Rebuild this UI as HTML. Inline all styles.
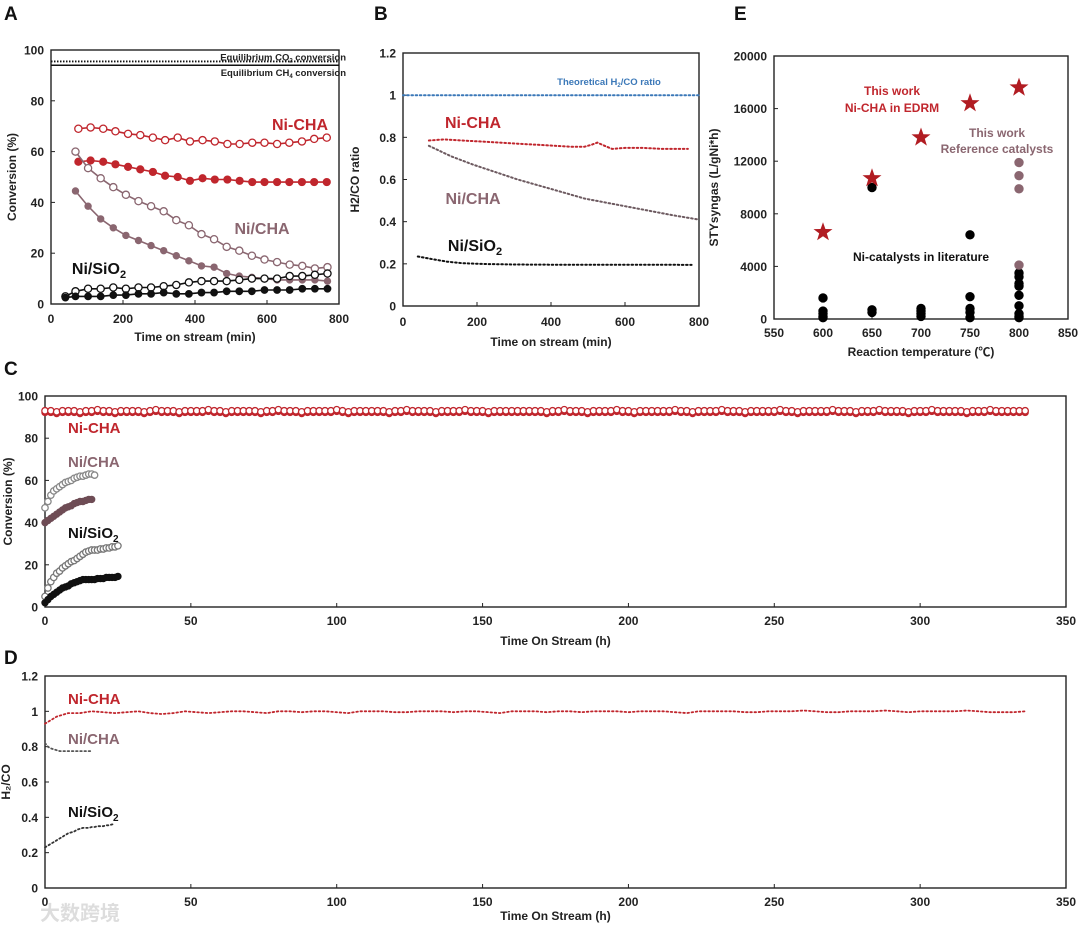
<!DOCTYPE html>
<html><head><meta charset="utf-8"><style>
html,body{margin:0;padding:0;background:#fff}
svg{display:block;font-family:"Liberation Sans",Arial,"Noto Sans CJK SC",sans-serif}
text{font-weight:bold}
</style></head><body>
<svg id="fig" width="1080" height="933" viewBox="0 0 1080 933" xmlns="http://www.w3.org/2000/svg"></svg>
<script>
// ---------- Panel A data ----------
const aX = [76,110,145,179,214,248,283,317,352,386,421,455,490,524,559,593,628,662,697,731,766];
const aNiCHAopen = [69,69.5,69,68,67,66.5,65.5,64.5,65.5,64,64.5,64,63,63,63.5,63.5,63,63.5,64,65,65.5];
const aNiCHAfill = [56,56.5,56,55,54,53,52,50.5,50,48.5,49.5,49,49,48.5,48,48,48,48,48,48,48];
const aX2 = [68,103,138,173,208,243,278,313,348,383,418,453,488,523,558,593,628,663,698,733,768];
const aNiCHA2open = [60,53.5,49.5,46,43,40.5,38.5,36.5,33,31,27.5,25.5,22.5,21,19,17.5,16.5,15.5,15,14,14.5];
const aNiCHA2fill = [44.5,38.5,33.5,30,27,25,23,21,19,17,15,14.5,12,11,10.5,10,9.5,9.5,9.5,9.5,9];
const aXs = [40,68,103,138,173,208,243,278,313,348,383,418,453,488,523,558,593,628,663,698,733,768];
const aSiO2open = [3,5,6,6,6.5,6,6.5,6.5,7,7.5,8.5,9,9,9,9.5,10,10,10,11,11,11.5,12];
const aSiO2fill = [2.5,3,3,3,3.5,3.5,4,4,4.5,4,4,4.5,4.5,5,5,5,5.5,5.5,5.5,6,6,6];
const aEqCO2 = 95.5, aEqCH4 = 94;
const aYTicks = [0,20,40,60,80,100];
const aXTicks = [0,200,400,600,800];
// ---------- Panel B data ----------
const bTheo = 1.0;
const bNiCHAx = [70,110,160,210,260,310,360,410,460,490,510,525,545,565,600,650,700,770];
const bNiCHAy = [0.785,0.79,0.785,0.78,0.775,0.77,0.765,0.76,0.755,0.755,0.765,0.775,0.76,0.745,0.75,0.75,0.745,0.745];
const bNiCHA2x = [70,130,190,250,310,370,430,490,550,610,670,730,800];
const bNiCHA2y = [0.76,0.71,0.67,0.635,0.60,0.57,0.54,0.51,0.49,0.47,0.45,0.43,0.41];
const bSiO2x = [40,80,120,160,220,300,400,500,600,700,780];
const bSiO2y = [0.235,0.222,0.21,0.203,0.199,0.197,0.196,0.196,0.196,0.196,0.195];
const bYTicks = [0,0.2,0.4,0.6,0.8,1,1.2];
const bXTicks = [0,200,400,600,800];
// ---------- Panel E data ----------
const eStarT = [600,650,700,750,800];
const eStarV = [6600,10700,13800,16400,17600];
const eRefT = [800,800,800,800];
const eRefV = [11900,10900,9900,4100];
const eLitT = [600,600,600,600,600,650,650,650,700,700,700,700,750,750,750,750,750,800,800,800,800,800,800,800,800,800];
const eLitV = [1600,600,400,200,100,10000,700,500,800,600,400,200,6400,1700,800,500,100,3500,3200,2700,2500,1800,1000,400,200,100];
const eYTicks = [0,4000,8000,12000,16000,20000];
const eXTicks = [550,600,650,700,750,800,850];
// ---------- Panel C data (Ni-CHA every 2 h) ----------
const cNiCHA = [
93,93,92.5,93,93,93,92.5,93,93,93.5,93,93,92.5,93,93,93,93,92.5,93,93.5,
93,93,93,92.5,93,93,93,93,93.5,93,93,92.5,93,93,93,93,93,92.5,93,93,
93.5,93,93,93,92.5,93,93,93,93,93,93.5,93,92.5,93,93,93,93,93,93,92.5,
93,93,93.5,93,93,93,93,92.5,93,93,93,93,93.5,93,93,93,92.5,93,93,93,
93,93,93,93,93,93,92.5,93,93,93.5,93,93,93,92.5,93,93,93,93,93.5,93,
93,92.5,93,93,93,93,93,93,93.5,93,93,92.5,93,93,93,93,93.5,93,93,93,
92.5,93,93,93,93,93,93.5,93,93,92.5,93,93,93,93,93,93.5,93,93,93,92.5,
93,93,93,93.5,93,93,93,93,92.5,93,93,93,93.5,93,93,93,93,93,92.5,93,
93,93,93.5,93,93,93,93,93,93];
const cNiCHA2open = [47,50,53,55,56,57,58,59,59.5,60,61,61.5,62,62,62.5,63,63,62.5];
const cNiCHA2fill = [40,41,42,43,44,45,46,47,47.5,48,49,49.5,50,50,50.5,51,51];
const cSiO2open = [5,9,12,14,16,17,18.5,19.5,20.5,21.5,22,23,24,25,26,26.5,27,27,27,27.5,27.5,28,28,28.5,28.5,29];
const cSiO2fill = [2,3.5,5,6,7,8,9,9.5,10,11,11.5,12,12.5,13,13,13,13,13,13.5,13.5,13.5,14,14,14,14,14.5];
const cYTicks = [0,20,40,60,80,100];
const cdXTicks = [0,50,100,150,200,250,300,350];
// ---------- Panel D data ----------
const dNiCHA = [0.93,0.97,0.99,0.99,1.0,0.995,0.99,0.995,1.0,0.99,0.985,0.99,1.0,0.995,0.99,0.995,1.0,1.0,0.995,0.99,1.0,1.0,0.995,1.0,1.0,0.995,0.99,1.0,1.0,1.0,0.995,0.995,1.0,1.0,1.0,0.995,1.0,1.0,0.995,0.99,1.0,1.0,1.0,0.995,1.0,1.0,0.995,1.0,1.0,1.0,0.995,1.0,1.0,1.0,0.995,0.99,1.0,1.0,1.0,1.0,0.995,0.995,1.0,1.0,1.0,1.005,1.0,0.995,0.995,1.0,1.0,1.0,1.005,1.0,0.995,1.0,1.0,1.0,1.0,1.005,1.0,0.995,0.995,0.995,1.0];
const dNiCHA2 = [0.82,0.80,0.79,0.785,0.78,0.775,0.775,0.775,0.775,0.775,0.775,0.775,0.775,0.775,0.775,0.775,0.775];
const dSiO2 = [0.23,0.24,0.25,0.26,0.27,0.28,0.29,0.30,0.31,0.315,0.32,0.33,0.335,0.34,0.34,0.34,0.345,0.345,0.35,0.35,0.35,0.355,0.355,0.36,0.36];
const dYTicks = [0,0.2,0.4,0.6,0.8,1,1.2];

const RED = '#c0262d', MAU = '#8a6670', BLK = '#111', BLUE = '#3b78b8';
const svg = document.getElementById('fig');
const NS = 'http://www.w3.org/2000/svg';
function mk(tag, attrs, parent) {
  const e = document.createElementNS(NS, tag);
  for (const k in attrs) e.setAttribute(k, attrs[k]);
  (parent || svg).appendChild(e);
  return e;
}
function scale(d0, d1, r0, r1) { return v => r0 + (v - d0) / (d1 - d0) * (r1 - r0); }
function txt(s, x, y, size, fill, anchor, name, parent) {
  const t = mk('text', {x: x, y: y, 'font-size': size, fill: fill, 'text-anchor': anchor || 'middle'}, parent);
  t.innerHTML = s;
  
  
  return t;
}
function axes(p) {
  const g = mk('g', {});
  
  
  const fr = mk('rect', {x: p.l, y: p.t, width: p.r - p.l, height: p.b - p.t, fill: 'none', stroke: '#222', 'stroke-width': 1.4}, g);
  
  
  p.yt.forEach(v => {
    const y = p.sy(v);
    const tk = mk('line', {x1: p.l, x2: p.l + 4, y1: y, y2: y, stroke: '#222', 'stroke-width': 1}, g);
    
    
    txt(String(v), p.l - 7, y + 4.5, p.fs, '#222', 'end', 'y-tick-label', g);
  });
  p.xt.forEach(v => {
    const x = p.sx(v);
    const tk = mk('line', {x1: x, x2: x, y1: p.b, y2: p.b - 4, stroke: '#222', 'stroke-width': 1}, g);
    
    
    txt(String(v), x, p.b + p.xlo, p.fs, '#222', 'middle', 'x-tick-label', g);
  });
  txt(p.xtitle, (p.l + p.r) / 2, p.b + p.xto, 12, '#222', 'middle', 'x-axis-title', g);
  const yt = txt(p.ytitle, 0, 0, 12, '#222', 'middle', 'y-axis-title', g);
  yt.setAttribute('transform', 'translate(' + p.ytx + ',' + ((p.t + p.b) / 2) + ') rotate(-90)');
  txt(p.letter, p.lx, p.ly, 19, '#111', 'start', 'panel-letter', g);
  return g;
}
function polyline(xs, ys, p, color, dashed, name, w) {
  const pts = xs.map((x, i) => p.sx(x).toFixed(1) + ',' + p.sy(ys[i]).toFixed(1)).join(' ');
  const a = {points: pts, fill: 'none', stroke: color, 'stroke-width': w || 1.6};
  if (dashed) { a['stroke-dasharray'] = '1.6 2.6'; a['stroke-linecap'] = 'round'; a['stroke-width'] = w || 2; }
  const pl = mk('polyline', a);
  
  
}
function markers(xs, ys, p, color, open, r, name) {
  xs.forEach((x, i) => {
    const c = mk('circle', {cx: p.sx(x), cy: p.sy(ys[i]), r: r, fill: open ? '#fff' : color, stroke: color, 'stroke-width': open ? 1.3 : 1});
    
    
  });
}
function idx(n, step) { return Array.from({length: n}, (_, i) => i * step); }

// ---------- Panel A ----------
const A = {name: 'panel-a', l: 51, r: 339, t: 50, b: 304, yt: aYTicks, xt: aXTicks, fs: 12, xlo: 19, xto: 37,
  xtitle: 'Time on stream (min)', ytitle: 'Conversion (%)', ytx: 16, letter: 'A', lx: 4, ly: 20};
A.sx = scale(0, 800, A.l, A.r); A.sy = scale(0, 100, A.b, A.t);
axes(A);
const eq1 = mk('line', {x1: A.l, x2: A.r, y1: A.sy(aEqCO2), y2: A.sy(aEqCO2), stroke: '#111', 'stroke-width': 1.8, 'stroke-dasharray': '1.5 1.5'});
 
const eq2 = mk('line', {x1: A.l, x2: A.r, y1: A.sy(aEqCH4), y2: A.sy(aEqCH4), stroke: '#111', 'stroke-width': 1.4});
 
txt('Equilibrium CO<tspan font-size="6" dy="2">2</tspan><tspan dy="-2"> conversion</tspan>', 346, A.sy(aEqCO2) - 1, 9.5, '#222', 'end', 'equilibrium-co2-label');
txt('Equilibrium CH<tspan font-size="6" dy="2">4</tspan><tspan dy="-2"> conversion</tspan>', 346, A.sy(aEqCH4) + 11, 9.5, '#222', 'end', 'equilibrium-ch4-label');
polyline(aX, aNiCHAopen, A, RED, false, 'a-nicha-co2-line'); markers(aX, aNiCHAopen, A, RED, true, 3.6, 'a-nicha-co2-point');
polyline(aX, aNiCHAfill, A, RED, false, 'a-nicha-ch4-line'); markers(aX, aNiCHAfill, A, RED, false, 3.6, 'a-nicha-ch4-point');
polyline(aX2, aNiCHA2open, A, MAU, false, 'a-ni-cha-co2-line'); markers(aX2, aNiCHA2open, A, MAU, true, 3.6, 'a-ni-cha-co2-point');
polyline(aX2, aNiCHA2fill, A, MAU, false, 'a-ni-cha-ch4-line'); markers(aX2, aNiCHA2fill, A, MAU, false, 3.2, 'a-ni-cha-ch4-point');
polyline(aXs, aSiO2open, A, BLK, false, 'a-sio2-co2-line'); markers(aXs, aSiO2open, A, BLK, true, 3.6, 'a-sio2-co2-point');
polyline(aXs, aSiO2fill, A, BLK, false, 'a-sio2-ch4-line'); markers(aXs, aSiO2fill, A, BLK, false, 3.4, 'a-sio2-ch4-point');
txt('Ni-CHA', 300, 130, 16, RED, 'middle', 'a-nicha-label');
txt('Ni/CHA', 262, 234, 16, MAU, 'middle', 'a-ni-cha-label');
txt('Ni/SiO<tspan font-size="11" dy="4">2</tspan>', 99, 274, 16, '#111', 'middle', 'a-sio2-label');

// ---------- Panel B ----------
const B = {name: 'panel-b', l: 403, r: 699, t: 53, b: 306, yt: bYTicks, xt: bXTicks, fs: 12, xlo: 20, xto: 40,
  xtitle: 'Time on stream (min)', ytitle: 'H2/CO ratio', ytx: 359, letter: 'B', lx: 374, ly: 20};
B.sx = scale(0, 800, B.l, B.r); B.sy = scale(0, 1.2, B.b, B.t);
axes(B);
polyline([0, 800], [bTheo, bTheo], B, BLUE, true, 'b-theoretical-line');
txt('Theoretical H<tspan font-size="6" dy="2">2</tspan><tspan dy="-2">/CO ratio</tspan>', 609, 85, 9.5, BLUE, 'middle', 'b-theoretical-label');
polyline(bNiCHAx, bNiCHAy, B, RED, true, 'b-nicha-line');
polyline(bNiCHA2x, bNiCHA2y, B, '#6d5a60', true, 'b-ni-cha-line');
polyline(bSiO2x, bSiO2y, B, BLK, true, 'b-sio2-line');
txt('Ni-CHA', 473, 128, 16, RED, 'middle', 'b-nicha-label');
txt('Ni/CHA', 473, 204, 16, MAU, 'middle', 'b-ni-cha-label');
txt('Ni/SiO<tspan font-size="11" dy="4">2</tspan>', 475, 251, 16, '#111', 'middle', 'b-sio2-label');

// ---------- Panel E ----------
const E = {name: 'panel-e', l: 774, r: 1068, t: 56, b: 319, yt: eYTicks, xt: eXTicks, fs: 12, xlo: 18, xto: 37,
  xtitle: 'Reaction temperature (℃)', ytitle: 'STYsyngas (L/gNi*h)', ytx: 718, letter: 'E', lx: 734, ly: 20};
E.sx = scale(550, 850, E.l, E.r); E.sy = scale(0, 20000, E.b, E.t);
axes(E);
markers(eLitT, eLitV, E, '#000', false, 4.2, 'e-literature-point');
markers(eRefT, eRefV, E, MAU, false, 4.2, 'e-reference-point');
eStarT.forEach((t, i) => {
  const cx = E.sx(t), cy = E.sy(eStarV[i]), R = 10, r = 4;
  let pts = [];
  for (let k = 0; k < 10; k++) {
    const ang = -Math.PI / 2 + k * Math.PI / 5, rr = k % 2 ? r : R;
    pts.push((cx + rr * Math.cos(ang)).toFixed(1) + ',' + (cy + rr * Math.sin(ang)).toFixed(1));
  }
  const s = mk('polygon', {points: pts.join(' '), fill: '#b11c22'});
  
  
});
txt('This work', 892, 95, 12, RED, 'middle', 'e-this-work-label');
txt('Ni-CHA in EDRM', 892, 112, 12, RED, 'middle', 'e-nicha-edrm-label');
txt('This work', 997, 137, 12, MAU, 'middle', 'e-ref-this-work-label');
txt('Reference catalysts', 997, 153, 12, MAU, 'middle', 'e-reference-label');
txt('Ni-catalysts in literature', 921, 261, 12, '#111', 'middle', 'e-literature-label');

// ---------- Panel C ----------
const C = {name: 'panel-c', l: 45, r: 1066, t: 396, b: 607, yt: cYTicks, xt: cdXTicks, fs: 12, xlo: 18, xto: 38,
  xtitle: 'Time On Stream (h)', ytitle: 'Conversion (%)', ytx: 12, letter: 'C', lx: 4, ly: 375};
C.sx = scale(0, 350, C.l, C.r); C.sy = scale(0, 100, C.b, C.t);
axes(C);
const cX = idx(cNiCHA.length, 2);
markers(cX, cNiCHA.map(v => v - 0.8), C, RED, false, 3.2, 'c-nicha-ch4-point');
markers(cX, cNiCHA, C, RED, true, 3.2, 'c-nicha-co2-point');
markers(idx(cNiCHA2open.length, 1), cNiCHA2open, C, '#888', true, 3.2, 'c-ni-cha-co2-point');
markers(idx(cNiCHA2fill.length, 1), cNiCHA2fill, C, '#6e4c55', false, 3.2, 'c-ni-cha-ch4-point');
markers(idx(cSiO2open.length, 1), cSiO2open, C, '#777', true, 3.2, 'c-sio2-co2-point');
markers(idx(cSiO2fill.length, 1), cSiO2fill, C, '#111', false, 3.2, 'c-sio2-ch4-point');
txt('Ni-CHA', 68, 433, 15, RED, 'start', 'c-nicha-label');
txt('Ni/CHA', 68, 467, 15, MAU, 'start', 'c-ni-cha-label');
txt('Ni/SiO<tspan font-size="10" dy="4">2</tspan>', 68, 538, 15, '#111', 'start', 'c-sio2-label');

// ---------- Panel D ----------
const D = {name: 'panel-d', l: 45, r: 1066, t: 676, b: 888, yt: dYTicks, xt: cdXTicks, fs: 12, xlo: 18, xto: 32,
  xtitle: 'Time On Stream (h)', ytitle: 'H₂/CO', ytx: 10, letter: 'D', lx: 4, ly: 664};
D.sx = scale(0, 350, D.l, D.r); D.sy = scale(0, 1.2, D.b, D.t);
axes(D);
polyline(idx(dNiCHA.length, 4), dNiCHA, D, RED, true, 'd-nicha-line', 1.8);
polyline(idx(dNiCHA2.length, 1), dNiCHA2, D, '#555', true, 'd-ni-cha-line', 1.8);
polyline(idx(dSiO2.length, 1), dSiO2, D, '#333', true, 'd-sio2-line', 1.8);
txt('Ni-CHA', 68, 704, 15, RED, 'start', 'd-nicha-label');
txt('Ni/CHA', 68, 744, 15, MAU, 'start', 'd-ni-cha-label');
txt('Ni/SiO<tspan font-size="10" dy="4">2</tspan>', 68, 817, 15, '#111', 'start', 'd-sio2-label');

const wm = txt('大数跨境', 80, 920, 20, '#dddddd', 'middle', 'watermark');
</script>
</body></html>
